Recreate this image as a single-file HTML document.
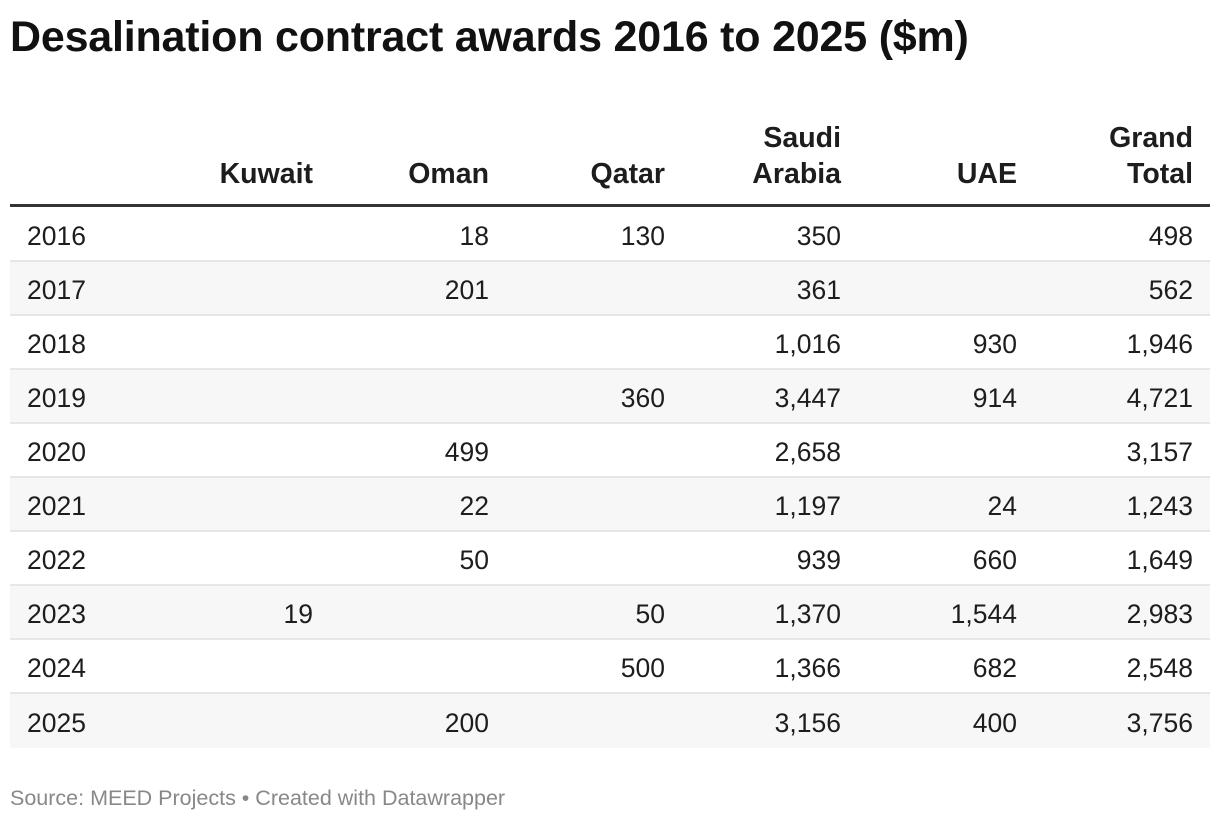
<!DOCTYPE html>
<html><head><meta charset="utf-8"><style>
body{margin:0;width:1220px;height:822px;background:#fff;font-family:"Liberation Sans",sans-serif;color:#1d1d1d;position:relative;overflow:hidden}
.a{position:absolute}
h1{position:absolute;left:10px;top:13px;margin:0;font-size:43px;font-weight:bold;color:#111;letter-spacing:-0.2px}
.hd{position:absolute;font-weight:bold;font-size:28.5px;line-height:36px;text-align:right;width:190px;bottom:0;color:#1d1d1d}
.row{position:absolute;left:10px;width:1200px;height:54px}
.c{position:absolute;top:2px;font-size:26.5px;text-align:right;width:190px}
.src{position:absolute;left:10px;top:786px;font-size:21.5px;color:#888}
</style></head><body>
<h1>Desalination contract awards 2016 to 2025 ($m)</h1>
<div class="a" style="left:0;top:112px;width:1220px;height:80px" id="hdr"></div>
<div class="a" style="left:10px;top:204px;width:1200px;height:3px;background:#333"></div>
<div id="body"></div>
<div class="src">Source: MEED Projects • Created with Datawrapper</div>
<script>
const years=["2016","2017","2018","2019","2020","2021","2022","2023","2024","2025"];
const kuwait=[null,null,null,null,null,null,null,19,null,null];
const oman=[18,201,null,null,499,22,50,null,null,200];
const qatar=[130,null,null,360,null,null,null,50,500,null];
const saudi=[350,361,1016,3447,2658,1197,939,1370,1366,3156];
const uae=[null,null,930,914,null,24,660,1544,682,400];
const total=[498,562,1946,4721,3157,1243,1649,2983,2548,3756];
const headers=["Kuwait","Oman","Qatar","Saudi<br>Arabia","UAE","Grand<br>Total"];
const cols=[kuwait,oman,qatar,saudi,uae,total];
const rights=[313,489,665,841,1017,1193];
const hdr=document.getElementById('hdr');
headers.forEach((h,i)=>{const d=document.createElement('div');d.className='hd';d.innerHTML=h;d.style.left=(rights[i]-190)+'px';


hdr.appendChild(d);});
const body=document.getElementById('body');
const fmt=v=>v==null?'':v.toLocaleString('en-US');
years.forEach((y,r)=>{const row=document.createElement('div');row.className='row';row.style.top=(208+54*r)+'px';
row.style.background=r%2?'#f7f7f7':'#fff';
const lh=(r<years.length-1)?'52px':'54px';
if(r<years.length-1){row.style.borderBottom='2px solid #e6e6e6';row.style.height='52px';}


const yc=document.createElement('div');yc.className='c';yc.style.left='17px';yc.style.textAlign='left';yc.style.lineHeight=lh;yc.textContent=y;


row.appendChild(yc);
cols.forEach((col,i)=>{const c=document.createElement('div');c.className='c';c.style.left=(rights[i]-10-190)+'px';c.style.lineHeight=lh;c.textContent=fmt(col[r]);


row.appendChild(c);});
body.appendChild(row);});
</script>
</body></html>
